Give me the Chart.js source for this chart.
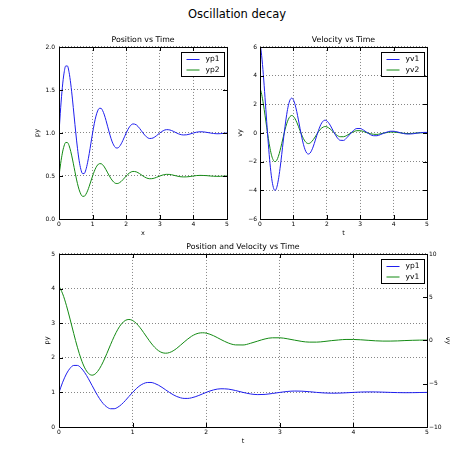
<!DOCTYPE html>
<html>
<head>
<meta charset="utf-8">
<script src="https://cdn.jsdelivr.net/npm/chart.js@4.4.1/dist/chart.umd.min.js"></script>
<style>
html, body { margin: 0; padding: 0; background: #fff; }
#fig { position: relative; width: 474px; height: 474px; overflow: hidden; font-family: "DejaVu Sans", sans-serif; }
#suptitle { position: absolute; left: 0; top: 6px; width: 474px; text-align: center; font-size: 11.5px; line-height: 17px; color: #000; }
canvas { position: absolute; }
</style>
</head>
<body>
<div id="fig">
  <div id="suptitle">Oscillation decay</div>
  <canvas id="pos" width="204" height="207" style="left:33px;top:30px"></canvas>
  <canvas id="vel" width="201" height="207" style="left:236px;top:30px"></canvas>
  <canvas id="both" width="409" height="208" style="left:43px;top:237px"></canvas>
</div>
<script>
// time samples (finer where the curves swing most)
var t = [0, 0.05, 0.1, 0.15, 0.2, 0.25, 0.3, 0.35, 0.4, 0.45,
  0.5, 0.55, 0.6, 0.65, 0.7, 0.75, 0.8, 0.85, 0.9, 0.95,
  1.0, 1.05, 1.1, 1.15, 1.2, 1.25, 1.3, 1.35, 1.4, 1.45,
  1.5, 1.55, 1.6, 1.65, 1.7, 1.75, 1.8, 1.85, 1.9, 1.95,
  2.0, 2.1, 2.2, 2.3, 2.4, 2.5, 2.6, 2.7, 2.8, 2.9,
  3.0, 3.1, 3.2, 3.3, 3.4, 3.5, 3.6, 3.7, 3.8, 3.9,
  4.0, 4.1, 4.2, 4.3, 4.4, 4.5, 4.6, 4.7, 4.8, 4.9, 5.0];

var yp1 = [1.000, 1.294, 1.532, 1.696, 1.779, 1.779, 1.705, 1.570, 1.394, 1.197,
  1.000, 0.822, 0.677, 0.578, 0.528, 0.528, 0.573, 0.654, 0.761, 0.881,
  1.000, 1.108, 1.196, 1.256, 1.286, 1.287, 1.259, 1.210, 1.145, 1.072,
  1.000, 0.934, 0.881, 0.845, 0.826, 0.826, 0.843, 0.873, 0.912, 0.956,
  1.000, 1.072, 1.105, 1.095, 1.053, 1.000, 0.956, 0.936, 0.942, 0.968,
  1.000, 1.026, 1.039, 1.035, 1.020, 1.000, 0.984, 0.977, 0.979, 0.988,
  1.000, 1.010, 1.014, 1.013, 1.007, 1.000, 0.994, 0.991, 0.992, 0.996, 1.000];

var yp2 = [0.500, 0.647, 0.766, 0.848, 0.890, 0.889, 0.853, 0.785, 0.697, 0.599,
  0.500, 0.411, 0.339, 0.289, 0.264, 0.264, 0.287, 0.327, 0.381, 0.441,
  0.500, 0.554, 0.598, 0.628, 0.643, 0.643, 0.630, 0.605, 0.572, 0.536,
  0.500, 0.467, 0.441, 0.422, 0.413, 0.413, 0.422, 0.436, 0.456, 0.478,
  0.500, 0.536, 0.553, 0.548, 0.527, 0.500, 0.478, 0.468, 0.471, 0.484,
  0.500, 0.513, 0.519, 0.518, 0.510, 0.500, 0.492, 0.489, 0.490, 0.494,
  0.500, 0.505, 0.507, 0.506, 0.504, 0.500, 0.497, 0.496, 0.496, 0.498, 0.500];

var yv1 = [6.28, 5.39, 4.07, 2.48, 0.81, -0.78, -2.14, -3.17, -3.80, -4.01,
  -3.81, -3.27, -2.47, -1.51, -0.49, 0.47, 1.30, 1.93, 2.31, 2.43,
  2.31, 1.98, 1.50, 0.91, 0.30, -0.29, -0.79, -1.17, -1.40, -1.47,
  -1.40, -1.20, -0.91, -0.55, -0.18, 0.17, 0.48, 0.71, 0.85, 0.89,
  0.85, 0.55, 0.11, -0.29, -0.51, -0.52, -0.33, -0.07, 0.18, 0.31,
  0.31, 0.20, 0.04, -0.11, -0.19, -0.19, -0.12, -0.02, 0.06, 0.12,
  0.12, 0.08, 0.02, -0.04, -0.07, -0.07, -0.05, -0.01, 0.02, 0.04, 0.04];

var yv2 = [3.14, 2.70, 2.03, 1.24, 0.41, -0.39, -1.07, -1.59, -1.90, -2.00,
  -1.91, -1.63, -1.23, -0.75, -0.25, 0.24, 0.65, 0.96, 1.15, 1.22,
  1.16, 0.99, 0.75, 0.46, 0.15, -0.14, -0.39, -0.58, -0.70, -0.74,
  -0.70, -0.60, -0.45, -0.28, -0.09, 0.09, 0.24, 0.35, 0.42, 0.45,
  0.43, 0.28, 0.06, -0.15, -0.26, -0.26, -0.17, -0.03, 0.09, 0.16,
  0.16, 0.10, 0.02, -0.05, -0.09, -0.10, -0.06, -0.01, 0.03, 0.06,
  0.06, 0.04, 0.01, -0.02, -0.04, -0.04, -0.02, 0.00, 0.01, 0.02, 0.02];

var BLUE = '#1f1fee';
var GREEN = '#138a13';

Chart.defaults.font.family = '"DejaVu Sans", sans-serif';
Chart.defaults.color = '#000';
Chart.defaults.animation = false;

function pts(ys) {
  return t.map(function (x, i) { return { x: x, y: ys[i] }; });
}

function minus(v) {
  return v < 0 ? '\u2212' + Math.abs(v) : String(v);
}

// matplotlib-like box: full frame and short inward ticks
var frame = {
  id: 'frame',
  afterLayout: function (chart) {
    // center the subplot title over the plotting area
    var a = chart.chartArea;
    chart.titleBlock.left = a.left;
    chart.titleBlock.right = a.right;
    chart.titleBlock.width = a.right - a.left;
  },
  afterDatasetsDraw: function (chart) {
    var ctx = chart.ctx, a = chart.chartArea, s = chart.scales;
    ctx.save();
    ctx.strokeStyle = '#000';
    ctx.lineWidth = 1;
    ctx.beginPath();
    s.x.ticks.forEach(function (tk) {
      var px = Math.round(s.x.getPixelForValue(tk.value)) + 0.5;
      ctx.moveTo(px, a.bottom); ctx.lineTo(px, a.bottom - 4);
      ctx.moveTo(px, a.top); ctx.lineTo(px, a.top + 4);
    });
    s.y.ticks.forEach(function (tk) {
      var py = Math.round(s.y.getPixelForValue(tk.value)) + 0.5;
      ctx.moveTo(a.left, py); ctx.lineTo(a.left + 4, py);
      if (!s.y2) { ctx.moveTo(a.right, py); ctx.lineTo(a.right - 4, py); }
    });
    if (s.y2) {
      s.y2.ticks.forEach(function (tk) {
        var py = Math.round(s.y2.getPixelForValue(tk.value)) + 0.5;
        ctx.moveTo(a.right, py); ctx.lineTo(a.right - 4, py);
      });
    }
    ctx.stroke();
    ctx.strokeRect(Math.round(a.left) + 0.5, Math.round(a.top) + 0.5,
      Math.round(a.right - a.left), Math.round(a.bottom - a.top));
    ctx.restore();
  }
};

// legend drawn inside the upper right corner of the plot
var boxLegend = {
  id: 'boxLegend',
  afterDraw: function (chart) {
    var ctx = chart.ctx, a = chart.chartArea, sets = chart.data.datasets;
    ctx.save();
    ctx.font = '7.5px "DejaVu Sans"';
    var tw = Math.max.apply(null, sets.map(function (d) { return ctx.measureText(d.label).width; }));
    var w = Math.round(5 + 13 + 6 + tw + 5), h = 24;
    var x0 = Math.round(a.right - 3 - w) + 0.5, y0 = Math.round(a.top + 5) + 0.5;
    ctx.fillStyle = '#fff';
    ctx.fillRect(x0, y0, w, h);
    ctx.strokeStyle = '#000';
    ctx.lineWidth = 1;
    ctx.strokeRect(x0, y0, w, h);
    sets.forEach(function (d, i) {
      var y = y0 + 7 + i * 10.5;
      ctx.strokeStyle = d.borderColor;
      ctx.beginPath(); ctx.moveTo(x0 + 5, y); ctx.lineTo(x0 + 18, y); ctx.stroke();
      ctx.fillStyle = '#000';
      ctx.textBaseline = 'middle';
      ctx.fillText(d.label, x0 + 24, y);
    });
    ctx.restore();
  }
};

function xAxis(title) {
  return {
    type: 'linear', min: 0, max: 5,
    ticks: { stepSize: 1, padding: 2, autoSkip: false, maxRotation: 0, font: { size: 6 } },
    grid: { color: 'rgba(0,0,0,0.6)', lineWidth: 0.8, drawTicks: false },
    border: { display: false, dash: [1, 2] },
    title: { display: true, text: title, font: { size: 6.5 }, padding: 0 },
    afterFit: function (s) { s.height = 18; }
  };
}

function yAxis(min, max, step, title, fmt, width, pad) {
  return {
    type: 'linear', position: 'left', min: min, max: max,
    ticks: { stepSize: step, padding: pad, autoSkip: false, font: { size: 6 }, callback: fmt },
    grid: { color: 'rgba(0,0,0,0.6)', lineWidth: 0.8, drawTicks: false },
    border: { display: false, dash: [1, 2] },
    title: { display: true, text: title, font: { size: 6.5 }, padding: 0 },
    afterFit: function (s) { s.width = width; }
  };
}

function line(label, ys, color, axis) {
  return {
    label: label, data: pts(ys), borderColor: color, backgroundColor: color,
    borderWidth: 1, pointRadius: 0, cubicInterpolationMode: 'monotone',
    yAxisID: axis || 'y'
  };
}

function titleOpt(text) {
  return { display: true, text: text, font: { size: 7.8, weight: 'normal' }, padding: { top: 5.7, bottom: 1.9 } };
}

function baseOptions(title, scales, rightPad) {
  return {
    responsive: false,
    animation: false,
    layout: { padding: { left: 0, top: 0, bottom: 0, right: rightPad } },
    plugins: { legend: { display: false }, tooltip: { enabled: false }, title: titleOpt(title) },
    scales: scales
  };
}

new Chart(document.getElementById('pos'), {
  type: 'line',
  data: { datasets: [line('yp1', yp1, BLUE), line('yp2', yp2, GREEN)] },
  options: baseOptions('Position vs Time', {
    x: xAxis('x'),
    y: yAxis(0, 2, 0.5, 'py', function (v) { return v.toFixed(1); }, 26, 4)
  }, 10),
  plugins: [frame, boxLegend]
});

new Chart(document.getElementById('vel'), {
  type: 'line',
  data: { datasets: [line('yv1', yv1, BLUE), line('yv2', yv2, GREEN)] },
  options: baseOptions('Velocity vs Time', {
    x: xAxis('t'),
    y: yAxis(-6, 6, 2, 'vy', minus, 24, 3)
  }, 10),
  plugins: [frame, boxLegend]
});

var rightAxis = yAxis(-10, 10, 5, 'vy', minus, 25, 2);
rightAxis.position = 'right';
rightAxis.grid = { drawOnChartArea: false, drawTicks: false };

new Chart(document.getElementById('both'), {
  type: 'line',
  data: { datasets: [line('yp1', yp1, BLUE), line('yv1', yv1, GREEN, 'y2')] },
  options: baseOptions('Position and Velocity vs Time', {
    x: xAxis('t'),
    y: yAxis(0, 5, 1, 'py', function (v) { return String(v); }, 16, 4),
    y2: rightAxis
  }, 0),
  plugins: [frame, boxLegend]
});
</script>
</body>
</html>
